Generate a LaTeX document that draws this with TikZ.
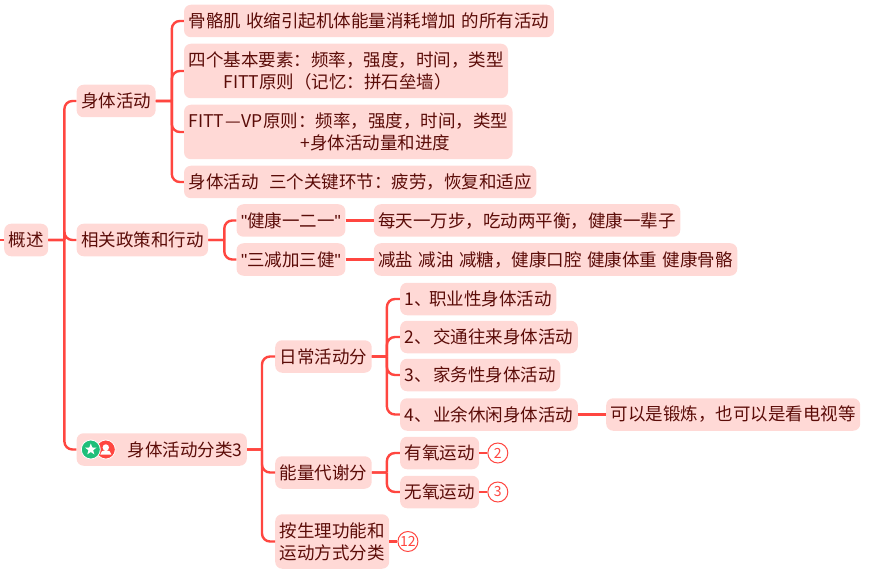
\documentclass[tikz,border=0pt]{standalone}
\usepackage{fontspec}
\setmainfont[WordSpace=1.4]{Noto Sans CJK SC}
\newfontfamily\quotefont{Liberation Sans}
\newcommand{\qmark}{{\quotefont\char34}}
\usetikzlibrary{positioning,shapes.geometric}
\definecolor{rosefill}{HTML}{FFD9D6}
\definecolor{redline}{HTML}{FF4640}
\definecolor{darkink}{HTML}{5B0C08}
\definecolor{badgegreen}{HTML}{1FBF7A}
\tikzset{
  topic/.style={fill=rosefill,text=darkink,rounded corners=7pt,inner xsep=4.5pt,inner ysep=0pt,minimum height=32.5pt,align=left,font=\fontsize{17.5}{22}\selectfont},
  tall/.style={minimum height=54.5pt},
  link/.style={draw=redline,line width=2.4pt,rounded corners=8pt,to path={(\tikztostart.east) -- ++(#1,0) ++(0,0) |- (\tikztotarget.west)}},
  plain/.style={draw=redline,line width=2.4pt},
  count/.style={circle,draw=redline,fill=white,text=redline,line width=1pt,minimum size=20pt,inner sep=0pt,font=\fontsize{14}{14}\selectfont},
  badge/.style={circle,draw=white,line width=.8pt,minimum size=19pt,inner sep=0pt}
}
\begin{document}
\begin{tikzpicture}[x=1pt,y=1pt,node distance=28pt]
\useasboundingbox (0,0) rectangle (889,574);
\coordinate (stub) at (0,334);
\node[topic,anchor=west] (root) at (4,334) {概述};
\node[topic,right=of root,yshift=139pt] (body) {身体活动};
\node[topic,right=of root] (policy) {相关政策和行动};
\node[topic,right=of root,yshift=-209.5pt] (cat) {\hspace*{46.5pt}身体活动分类3};
\node[topic,right=of body,yshift=80pt] (muscle) {骨骼肌 收缩引起机体能量消耗增加 的所有活动};
\node[topic,tall,right=of body,yshift=30pt] (four) {四个基本要素：频率，强度，时间，类型\\\hspace*{35pt}FITT原则（记忆：拼石垒墙）};
\node[topic,tall,right=of body,yshift=-31pt] (fitt) {FITT\kern1pt—\kern1pt VP原则：频率，强度，时间，类型\\\hspace*{112pt}+身体活动量和进度};
\node[topic,right=of body,yshift=-81pt] (three) {身体活动 \ 三个关键环节：疲劳，恢复和适应};
\node[topic,right=of policy,yshift=19.5pt] (slogan) {\qmark 健康一二一\qmark};
\node[topic,right=of policy,yshift=-19.5pt] (triple) {\qmark 三减加三健\qmark};
\node[topic,right=of slogan] (steps) {每天一万步，吃动两平衡，健康一辈子};
\node[topic,right=of triple] (reduce) {减盐 减油 减糖，健康口腔 健康体重 健康骨骼};
\node[topic,right=of cat,yshift=93pt] (daily) {日常活动分};
\node[topic,right=of cat,yshift=-23pt] (energy) {能量代谢分};
\node[topic,tall,right=of cat,yshift=-92pt] (func) {按生理功能和\\运动方式分类};
\node[topic,right=of daily,yshift=57.5pt] (job) {1、\kern-2.5pt职业性身体活动};
\node[topic,right=of daily,yshift=19.5pt] (commute) {2、\kern1.5pt交通往来身体活动};
\node[topic,right=of daily,yshift=-18.5pt] (house) {3、\kern1.5pt家务性身体活动};
\node[topic,right=of daily,yshift=-58pt] (leisure) {4、\kern1.5pt业余休闲身体活动};
\node[topic,right=of leisure] (watch) {可以是锻炼，也可以是看电视等};
\node[topic,right=of energy,yshift=19.5pt] (aero) {有氧运动};
\node[topic,right=of energy,yshift=-19.5pt] (anaero) {无氧运动};
\node[count,right=8pt of aero] (two) {2};
\node[count,right=8pt of anaero] (thr) {3};
\node[count,right=8pt of func] (twelve) {12};
\node[badge,fill=redline,right=19.5pt of cat.west] (person) {};
\node[badge,fill=badgegreen,right=4.5pt of cat.west] (star) {};
\node[star,star points=5,star point ratio=2.4,fill=white,minimum size=12pt,inner sep=0pt] (stari) at (star) {};
\fill[white] ([yshift=2pt]person.center) circle (3.2pt);
\fill[white] ([xshift=-5.5pt,yshift=-5pt]person.center) arc (180:0:5.5pt and 4.5pt) -- cycle;
\path[link=16] (root) edge (body) edge (policy) edge (cat);
\path[link=16] (body) edge (muscle) edge (four) edge (fitt) edge (three);
\path[link=16] (policy) edge (slogan) edge (triple);
\path[link=15] (cat) edge (daily) edge (energy) edge (func);
\path[link=15] (daily) edge (job) edge (commute) edge (house) edge (leisure);
\path[link=15] (energy) edge (aero) edge (anaero);
\draw[plain] (stub) -- (root);
\draw[plain] (slogan) -- (steps);
\draw[plain] (triple) -- (reduce);
\draw[plain] (leisure) -- (watch);
\draw[plain] (aero) -- (two);
\draw[plain] (anaero) -- (thr);
\draw[plain] (func) -- (twelve);
\end{tikzpicture}
\end{document}
